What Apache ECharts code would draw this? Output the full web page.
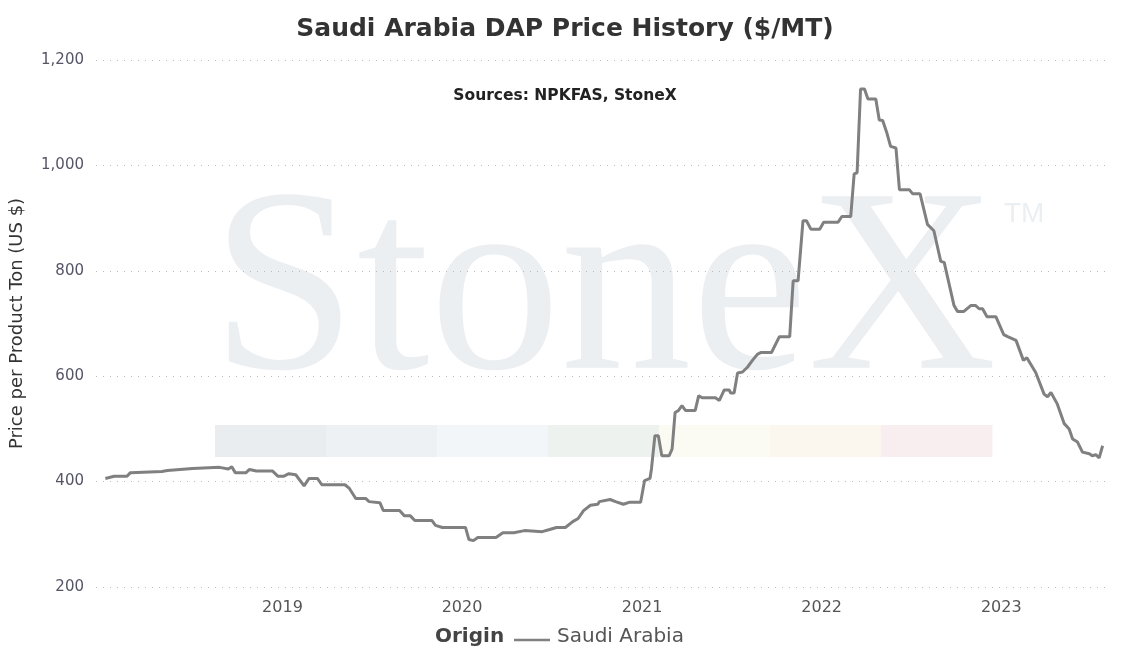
<!DOCTYPE html>
<html>
<head>
    <meta charset="utf-8">
    <title>Saudi Arabia DAP Price History</title>
    <script src="https://cdn.jsdelivr.net/npm/echarts@6/dist/echarts.min.js"></script>
    <style>
        html, body {margin:0;padding:0;background:#fff;}
        #chart {width:1130px;height:656px;}
    </style>
</head>
<body>
<div id="chart"></div>
<script>
    // weekly-ish price readings, $/MT
    var priceData = [
        ['2018-01-06',406],['2018-01-24',410],['2018-02-19',410],['2018-02-26',417],['2018-05-01',419],
        ['2018-05-12',421],['2018-07-02',425],['2018-08-26',427],['2018-09-13',424],['2018-09-20',428],
        ['2018-09-27',417],['2018-10-19',417],['2018-10-26',423],['2018-11-09',420],['2018-12-12',420],
        ['2018-12-23',410],['2019-01-03',410],['2019-01-14',415],['2019-01-28',413],['2019-02-14',392],
        ['2019-02-24',406],['2019-03-13',406],['2019-03-22',394],['2019-05-08',394],['2019-05-17',387],
        ['2019-05-30',368],['2019-06-19',368],['2019-06-26',362],['2019-07-18',360],['2019-07-25',345],
        ['2019-08-27',345],['2019-09-06',335],['2019-09-18',335],['2019-09-27',326],['2019-11-01',326],
        ['2019-11-08',317],['2019-11-22',313],['2020-01-08',313],['2020-01-15',290],['2020-01-24',288],
        ['2020-02-02',294],['2020-03-10',294],['2020-03-24',303],['2020-04-15',303],['2020-05-07',307],
        ['2020-06-12',305],['2020-06-27',309],['2020-07-11',313],['2020-07-29',313],['2020-08-13',324],
        ['2020-08-24',330],['2020-09-04',345],['2020-09-18',355],['2020-10-03',357],['2020-10-06',362],
        ['2020-10-28',366],['2020-11-08',362],['2020-11-24',357],['2020-12-07',361],['2020-12-29',361],
        ['2021-01-06',402],['2021-01-17',406],['2021-01-20',424],['2021-01-27',487],['2021-02-03',487],
        ['2021-02-10',449],['2021-02-25',449],['2021-03-03',462],['2021-03-09',531],['2021-03-16',535],
        ['2021-03-23',544],['2021-03-30',535],['2021-04-19',535],['2021-04-26',563],['2021-05-03',559],
        ['2021-05-30',559],['2021-06-07',554],['2021-06-17',574],['2021-06-27',574],['2021-06-30',568],
        ['2021-07-07',568],['2021-07-14',606],['2021-07-24',608],['2021-08-03',617],['2021-08-14',631],
        ['2021-08-24',642],['2021-08-31',645],['2021-09-21',645],['2021-10-07',675],['2021-10-28',675],
        ['2021-11-04',781],['2021-11-14',781],['2021-11-24',895],['2021-12-01',895],['2021-12-10',879],
        ['2021-12-28',879],['2022-01-05',892],['2022-02-03',892],['2022-02-11',903],['2022-03-01',903],
        ['2022-03-08',984],['2022-03-14',986],['2022-03-21',1145],['2022-03-29',1145],['2022-04-05',1126],
        ['2022-04-21',1126],['2022-04-28',1086],['2022-05-05',1085],['2022-05-13',1063],['2022-05-21',1036],
        ['2022-06-01',1033],['2022-06-08',954],['2022-06-28',954],['2022-07-05',946],['2022-07-20',946],
        ['2022-08-04',888],['2022-08-17',876],['2022-08-31',818],['2022-09-07',816],['2022-09-27',734],
        ['2022-10-04',723],['2022-10-17',723],['2022-10-31',734],['2022-11-10',734],['2022-11-17',728],
        ['2022-11-24',728],['2022-12-03',713],['2022-12-21',713],['2023-01-06',679],['2023-01-14',675],
        ['2023-01-31',668],['2023-02-15',630],['2023-02-22',635],['2023-03-12',607],['2023-03-29',566],
        ['2023-04-05',561],['2023-04-12',569],['2023-04-25',547],['2023-05-09',510],['2023-05-19',500],
        ['2023-05-26',481],['2023-06-05',475],['2023-06-15',456],['2023-06-29',453],['2023-07-05',449],
        ['2023-07-12',451],['2023-07-19',445],['2023-07-26',468]
    ];

    var FONT = '"DejaVu Sans", Verdana, sans-serif';
    // faint coloured strip behind the line
    var stripColors = ['#e9edf0','#edf1f3','#f2f6f8','#edf2ef','#fbfbf3','#fbf7ee','#f8eef0'];
    var graphics = [
        {type:'text', left:211, top:168, z:-10, silent:true,
         style:{text:'StoneX', font:'normal 262px "Liberation Serif", serif', fill:'#eceff2'}},
        {type:'text', left:1004, top:200, z:-10, silent:true,
         style:{text:'TM', font:'normal 28px "Liberation Sans", sans-serif', fill:'#eceff2'}},
        {type:'text', left:'center', top:88, z:5, silent:true,
         style:{text:'Sources: NPKFAS, StoneX', font:'bold 15.5px ' + FONT, fill:'#222'}},
        // legend
        {type:'text', left:435, top:627, silent:true,
         style:{text:'Origin', font:'bold 20px ' + FONT, fill:'#444'}},
        {type:'line', silent:true, shape:{x1:514, y1:640, x2:550, y2:640},
         style:{stroke:'#808080', lineWidth:2.5}},
        {type:'text', left:557, top:627, silent:true,
         style:{text:'Saudi Arabia', font:'normal 20px ' + FONT, fill:'#555'}}
    ];
    var segW = (992 - 215) / stripColors.length;
    for (var i = 0; i < stripColors.length; i++) {
        graphics.push({type:'rect', z:-9, silent:true,
            shape:{x:215 + i*segW, y:425, width:segW + 0.5, height:32},
            style:{fill:stripColors[i]}});
    }

    var chart = echarts.init(document.getElementById('chart'));
    chart.setOption({
        animation: false,
        title: {
            text: 'Saudi Arabia DAP Price History ($/MT)',
            left: 'center', top: 12,
            textStyle: {fontFamily:FONT, fontSize:25, fontWeight:'bold', color:'#333'}
        },
        graphic: graphics,
        grid: {left: 93, right: 20, top: 60, bottom: 69},
        xAxis: {
            type: 'time',
            min: '2017-12-18', max: '2023-08-10',
            minInterval: 365.25 * 86400000, maxInterval: 366 * 86400000,
            axisLine: {show:false}, axisTick: {show:false}, splitLine: {show:false},
            axisLabel: {fontFamily:FONT, fontSize:16, color:'#555', margin:13,
                formatter: function (v) {
                    var y = new Date(v).getFullYear();
                    return y === 2018 ? '' : String(y);
                }}
        },
        yAxis: {
            type: 'value', min: 200, max: 1200, interval: 200,
            name: 'Price per Product Ton (US $)',
            nameLocation: 'middle', nameGap: 70,
            nameTextStyle: {fontFamily:FONT, fontSize:18, color:'#333'},
            axisLine: {show:false}, axisTick: {show:false},
            axisLabel: {fontFamily:FONT, fontSize:15, color:'#556', margin:12,
                formatter: function (v) { return v.toLocaleString('en-US'); }},
            splitLine: {lineStyle: {type:[1,6], color:'#bbb', width:1}}
        },
        series: [{
            name: 'Saudi Arabia',
            type: 'line',
            data: priceData,
            showSymbol: false,
            color: '#808080',
            lineStyle: {width: 3, color: '#808080'}
        }]
    });
</script>
</body>
</html>
